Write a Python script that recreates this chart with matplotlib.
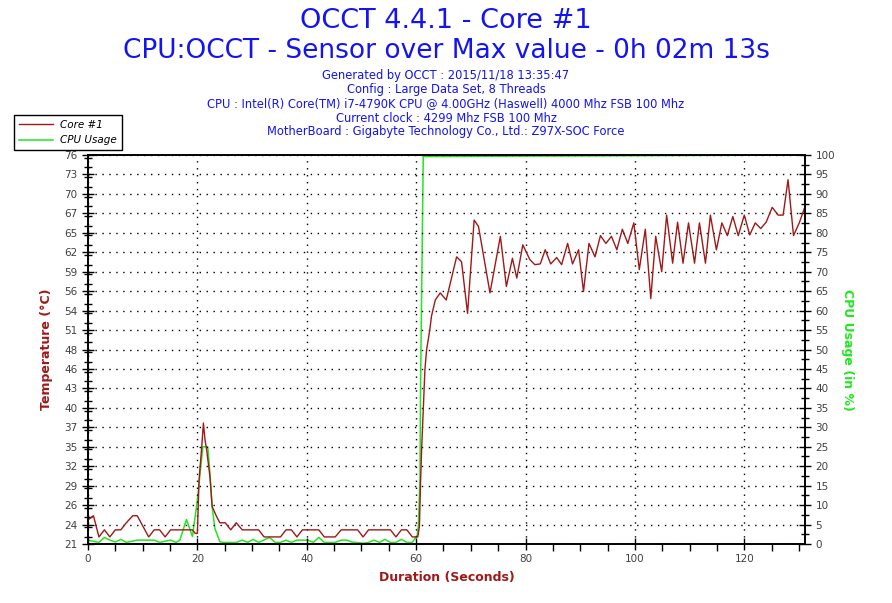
import numpy as np
import matplotlib
matplotlib.use('Agg')
import matplotlib.pyplot as plt
from matplotlib.ticker import FixedLocator, MultipleLocator

# Dados
tempo_core = [0, 1, 2, 3, 4, 5, 6, 7, 8.2, 9.0,
              11.1, 12.1, 13.1, 14.1, 15.1, 16.1, 17.1, 18.1, 19.1, 19.6, 20.0,
              20.3, 20.8, 21.1, 21.4, 21.7, 22.3, 22.7, 23.5, 24.1, 25.1, 26.1, 27.1, 28.2,
              29.2, 30.2, 31.2, 32.2,
              33.2, 34.2, 35.2, 36.2, 37.2, 38.2, 39.2, 40.2, 41.2, 42.2, 43.2, 44.2, 45.2,
              46.3, 47.3, 48.3, 49.3, 50.3, 51.3, 52.3,
              53.3, 54.3, 55.3, 56.3, 57.3, 58.3, 59.3, 60.3, 60.6, 60.8, 61.0, 61.3, 61.6,
              61.9, 62.5, 62.8,
              63.5, 64.4, 65.5, 67.4, 68.3, 69.4, 70.6, 71.4, 73.5, 75.4, 76.5, 77.6, 78.4,
              79.5, 80.8,
              81.7, 82.7, 83.6, 84.6, 85.7, 86.6, 87.7, 88.6, 89.7, 90.6, 91.6, 92.7, 93.7,
              94.7, 95.7, 96.7, 97.7, 98.7, 99.8, 100.8, 101.9, 102.9, 103.8, 104.9, 105.8,
              106.9, 107.8, 108.8, 109.8, 110.9, 111.8, 112.9, 113.8, 114.9, 115.9, 116.9,
              117.9, 118.9, 120.0, 121.0, 122.0, 123.0, 124.0, 125.1, 126.2, 127.1, 128.0,
              129.0, 130.1, 131.0]
temp_core = [24.4, 25, 22, 23, 22, 23, 23, 24, 25, 25,
             22, 23, 23, 22, 23, 23, 23, 23, 23, 22.5, 22.5,
             30, 34.8, 38.1, 35.7, 34.3, 30.5, 26.3, 24.9, 24, 24, 23, 24, 23,
             23, 23, 23, 22,
             22, 22, 22, 23, 23, 22, 23, 23, 23, 23, 22, 22, 22,
             23, 23, 23, 23, 22, 23, 23,
             23, 23, 23, 22, 23, 23, 22, 22, 23.5, 29.6, 34.3, 40, 45.6,
             48.4, 51.3, 53.2,
             55.5, 56.5, 55.5, 61.6, 60.9, 53.6, 66.8, 65.9, 56.5, 64.5, 57.4, 61.4, 58.6,
             63.3, 61.2,
             60.5, 60.6, 62.6, 60.6, 61.5, 60.5, 63.5, 60.6, 62.6, 56.7, 63.5, 61.6, 64.6,
             63.5, 64.5, 62.6, 65.5, 63.5, 66.4, 59.8, 65.5, 55.7, 64.5, 59.5, 67.5,
             60.7, 66.5, 60.7, 66.4, 60.7, 66.4, 60.7, 67.5, 62.6, 66.4, 64.6,
             67.3, 64.6, 67.5, 64.7, 66.4, 65.6, 66.5, 68.6, 67.5, 67.5, 72.5,
             64.6, 66.5, 68.5]

tempo_cpu = [0, 2, 3, 4, 5, 6, 7, 9.0, 12.1, 13.1, 15.1, 16.1, 16.8, 18.0, 19.1, 20.0, 20.5,
             21.0, 21.9, 22.3, 22.7, 23.2, 24.1, 24.7, 27.1, 28.2, 29.2, 30.2, 31.2, 33.2,
             34.2, 35.2, 36.2, 37.2, 38.2, 40.2, 41.2, 42.2, 43.2, 45.2, 46.3, 47.3, 48.3,
             50.3, 51.3, 52.3, 53.3, 54.3, 55.3, 56.3, 57.3, 58.3, 59.3, 60.2, 60.4, 60.7,
             60.8, 61.0, 61.2, 61.3, 131.0]
uso_cpu = [1.0, 0.4, 1.7, 1.0, 0.5, 1.2, 0.4, 1.0, 1.0, 0.4, 1.0, 0.4, 1.0, 6.3, 1.9, 11.3, 18.2,
           25, 25, 18, 9.6, 4, 0.6, 0.4, 0.4, 1.0, 0.4, 1.2, 0.4, 1.7,
           0.4, 0.4, 1.0, 0.4, 1.0, 1.0, 0.4, 1.7, 0.4, 0.4, 1.0, 1.0, 0.5,
           0.2, 0.4, 1.0, 0.4, 1.2, 0.4, 0.4, 1.2, 0.4, 0.4, 2.3, 4.5, 16.5,
           40, 64, 87.6, 99.6, 100]

temp_ticks = [21, 23.75, 26.5, 29.25, 32, 34.75, 37.5, 40.25, 43, 45.75, 48.5, 51.25, 54,
              56.75, 59.5, 62.25, 65, 67.75, 70.5, 73.25, 76]
temp_labels = ['21', '24', '26', '29', '32', '35', '37', '40', '43', '46', '48', '51', '54',
               '56', '59', '62', '65', '67', '70', '73', '76']

cor_temp = '#a01818'
cor_cpu = '#22e622'
cor_azul = '#1414f0'
cor_tick = '#404040'
cor_fundo = '#fdf7e8'

fig = plt.figure(figsize=(8.92, 6.03), dpi=100)
ax = fig.add_axes([88/892, 59/603, 717/892, 389/603])

ax2 = ax.twinx()
l_cpu, = ax2.plot(tempo_cpu, uso_cpu, color=cor_cpu, lw=1.1, label='CPU Usage')
l_core, = ax.plot(tempo_core, temp_core, color=cor_temp, lw=1.0, label='Core #1')
# fundo no ax2, linhas do ax por cima
ax.set_zorder(ax2.get_zorder() + 1)
ax.patch.set_visible(False)
ax2.set_facecolor(cor_fundo)

ax.set_xlim(0, 131.1)
ax.set_ylim(21, 76)
ax2.set_ylim(0, 100)

ax.xaxis.set_major_locator(MultipleLocator(20))
ax.xaxis.set_minor_locator(MultipleLocator(5))
ax.yaxis.set_major_locator(FixedLocator(temp_ticks))
ax.set_yticklabels(temp_labels)
ax.yaxis.set_minor_locator(MultipleLocator(1.375))
ax2.yaxis.set_major_locator(MultipleLocator(5))
ax2.yaxis.set_minor_locator(MultipleLocator(2.5))

ax.grid(True, which='major', color='black', linestyle=(0, (1, 4)), linewidth=1.0)

for a in (ax, ax2):
    for s in a.spines.values():
        s.set_linewidth(1.2)
    a.tick_params(which='major', direction='inout', length=8, width=1, colors='black',
                  labelcolor=cor_tick, labelsize=7.5)
    a.tick_params(which='minor', direction='out', length=4, width=1, colors='black')
ax.tick_params(axis='y', which='minor', direction='inout', length=6)
ax2.tick_params(axis='y', which='minor', direction='inout', length=6)
ax.tick_params(axis='x', which='minor', direction='out', length=5)

ax.set_ylabel('Temperature (°C)', color=cor_temp, fontweight='bold', fontsize=9, labelpad=8)
ax2.set_ylabel('CPU Usage (in %)', color=cor_cpu, fontweight='bold', fontsize=9,
               rotation=270, labelpad=14)
ax.set_xlabel('Duration (Seconds)', color=cor_temp, fontweight='bold', fontsize=9, labelpad=5)

# Titulos
fig.text(0.5, 1 - 21/603, 'OCCT 4.4.1 - Core #1', ha='center', va='center',
         color=cor_azul, fontsize=19.5)
fig.text(0.5, 1 - 51/603, 'CPU:OCCT - Sensor over Max value - 0h 02m 13s', ha='center',
         va='center', color=cor_azul, fontsize=19)
info = ['Generated by OCCT : 2015/11/18 13:35:47',
        'Config : Large Data Set, 8 Threads',
        'CPU : Intel(R) Core(TM) i7-4790K CPU @ 4.00GHz (Haswell) 4000 Mhz FSB 100 Mhz',
        'Current clock : 4299 Mhz FSB 100 Mhz',
        'MotherBoard : Gigabyte Technology Co., Ltd.: Z97X-SOC Force']
for i, linha in enumerate(info):
    fig.text(0.5, 1 - (76 + 14*i)/603, linha, ha='center', va='center',
             color=cor_azul, fontsize=8.3)

leg = fig.legend([l_core, l_cpu], ['Core #1', 'CPU Usage'], loc='upper left',
                 bbox_to_anchor=(14/892, 1 - 115/603), fancybox=False, framealpha=1,
                 edgecolor='black', prop={'style': 'italic', 'size': 7.5},
                 handlelength=3.3, borderpad=0.45, labelspacing=0.55, handletextpad=0.7,
                 borderaxespad=0)
leg.get_frame().set_linewidth(1.0)

fig.savefig('out.png', dpi=100)
